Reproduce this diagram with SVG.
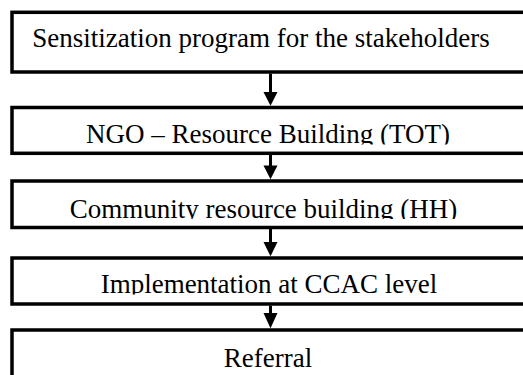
<svg xmlns="http://www.w3.org/2000/svg" width="523" height="375" viewBox="0 0 523 375">
<style>
.box{fill:#fff;stroke:#000;stroke-width:3.5}
.lbl{font-family:"Liberation Serif","Times New Roman",serif;font-size:27px;fill:#000;text-anchor:middle}
.shaft{stroke:#000;stroke-width:3;fill:none}
.head{fill:#000}
</style>
<defs>
<clipPath id="c2"><rect x="0" y="100" width="523" height="44.5"/></clipPath>
<clipPath id="c3"><rect x="0" y="175" width="523" height="44"/></clipPath>
<clipPath id="c4"><rect x="0" y="250" width="523" height="44.5"/></clipPath>
</defs>
<g id="n1">
<rect class="box" x="12" y="12.3" width="530" height="59.7"/>
<text class="lbl" x="261" y="47">Sensitization program for the stakeholders</text>
</g>
<g id="n2">
<rect class="box" x="12" y="107.5" width="530" height="45.8"/>
<text class="lbl" x="268" y="143" clip-path="url(#c2)">NGO – Resource Building (TOT)</text>
</g>
<g id="n3">
<rect class="box" x="12" y="181" width="530" height="46.5"/>
<text class="lbl" x="263.5" y="217.5" clip-path="url(#c3)">Community resource building (HH)</text>
</g>
<g id="n4">
<rect class="box" x="12" y="258" width="530" height="46"/>
<text class="lbl" x="269" y="293" clip-path="url(#c4)">Implementation at CCAC level</text>
</g>
<g id="n5">
<rect class="box" x="12" y="330" width="530" height="60"/>
<text class="lbl" x="268" y="366.5">Referral</text>
</g>
<g id="connectors">
<line class="shaft" x1="270.5" y1="73.5" x2="270.5" y2="93"/>
<polygon class="head" points="263.5,92 277.5,92 270.5,105.7"/>
<line class="shaft" x1="270.5" y1="155" x2="270.5" y2="166"/>
<polygon class="head" points="263.5,165.5 277.5,165.5 270.5,179.3"/>
<line class="shaft" x1="270.5" y1="229" x2="270.5" y2="243"/>
<polygon class="head" points="263.5,242 277.5,242 270.5,256.3"/>
<line class="shaft" x1="270.5" y1="305.5" x2="270.5" y2="314"/>
<polygon class="head" points="263.5,313 277.5,313 270.5,328.3"/>
</g>
</svg>
